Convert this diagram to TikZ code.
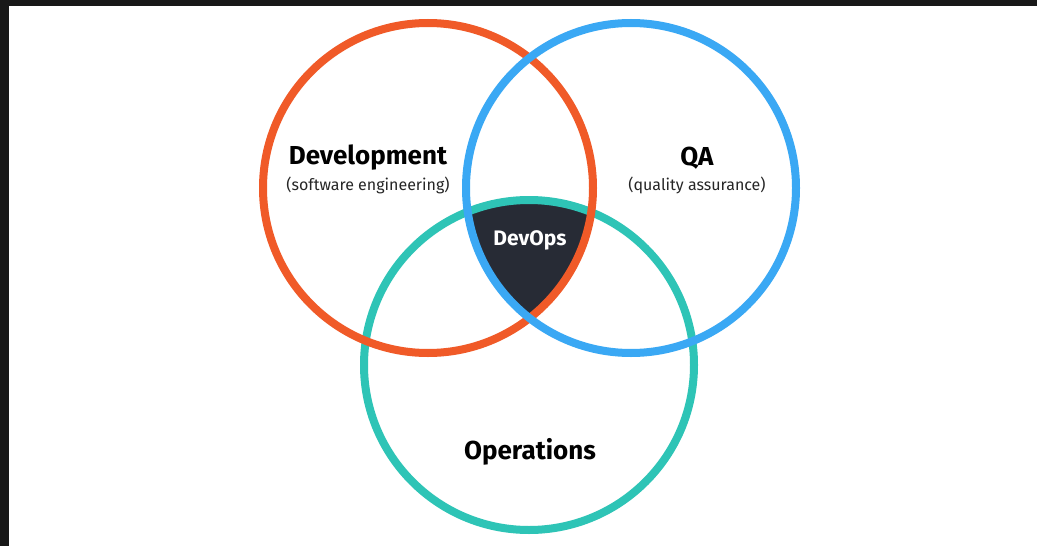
\documentclass[tikz,border=0pt]{standalone}
\usepackage{fontspec}
\setmainfont{Fira Sans}
\definecolor{devorange}{HTML}{F05A28}
\definecolor{qablue}{HTML}{3AA8F4}
\definecolor{opsteal}{HTML}{2EC4B6}
\definecolor{devopsfill}{HTML}{272B35}
\definecolor{framedark}{HTML}{181818}
\begin{document}
\begin{tikzpicture}[x=1pt,y=-1pt,
  ring/.style={line width=8pt},
  title/.style={font=\fontsize{26}{30}\selectfont\bfseries, text=black, inner sep=0pt},
  sub/.style={font=\fontsize{16}{19}\selectfont, text=black!85, inner sep=0pt}]
\useasboundingbox (0,0) rectangle (1037,546);
\fill[white] (0,0) rectangle (1037,546);
\fill[framedark] (0,0) rectangle (1037,6);
\fill[framedark] (0,0) rectangle (9,546);
\coordinate (cdev) at (428,188);
\coordinate (cqa) at (631,188);
\coordinate (cops) at (529,365);
\begin{scope}
  \clip (cdev) circle (165);
  \clip (cqa) circle (165);
  \fill[devopsfill] (cops) circle (165);
\end{scope}
\draw[ring, opsteal] (cops) circle (165);
\draw[ring, devorange] (cdev) circle (165);
\draw[ring, qablue] (cqa) circle (165);
\node[title] (devt) at (368,158) {Development};
\node[sub] (devs) at (368,185) {(software engineering)};
\node[title] (qat) at (697,158) {QA};
\node[sub] (qas) at (697,185) {(quality assurance)};
\node[font=\fontsize{21}{25}\selectfont\bfseries, text=white, inner sep=0pt] (devops) at (530,240) {DevOps};
\node[title] (ops) at (530,452) {Operations};
\end{tikzpicture}
\end{document}
